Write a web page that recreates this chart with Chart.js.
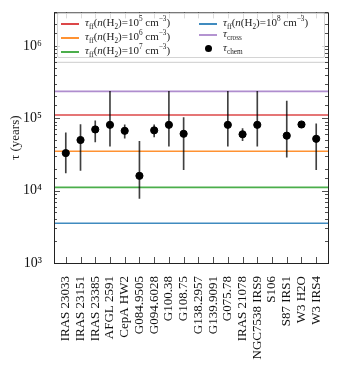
<!DOCTYPE html>
<html lang="en">
<head>
    <meta charset="UTF-8">
    <title>tau chem vs free-fall</title>
    <script src="https://cdn.jsdelivr.net/npm/chart.js"></script>
    <style>
        body {
            margin: 0;
            background: #fff;
        }
        #wrap {
            position: relative;
            width: 338px;
            height: 369px;
        }
        #legend {
            position: absolute;
            left: 57px;
            top: 13px;
            width: 268px;
            height: 45px;
            border: 1px solid #d4d4d4;
            border-radius: 2px;
            background: rgba(255, 255, 255, 0.8);
            box-sizing: border-box;
            font-family: "Liberation Serif", serif;
            font-size: 11px;
            color: #222;
        }
        .item {
            position: absolute;
            white-space: nowrap;
            line-height: 11px;
        }
        .swatch {
            position: absolute;
            width: 18px;
            height: 2px;
        }
        .dot {
            position: absolute;
            width: 7px;
            height: 7px;
            border-radius: 50%;
            background: #000;
        }
        sub, sup {
            font-size: 66%;
            line-height: 0;
        }
    </style>
</head>
<body>
<div id="wrap">
    <canvas id="chart" width="338" height="369"></canvas>
    <div id="legend">
        <!-- column 1 -->
        <div class="swatch" style="left:3px;top:9px;background:#d62728;opacity:.85"></div>
        <div class="item" style="left:27px;top:3px"><i>τ</i><sub>ff</sub>(<i>n</i>(H<sub>2</sub>)=10<sup>5</sup> cm<sup>−3</sup>)</div>
        <div class="swatch" style="left:3px;top:23px;background:#ff7f0e;opacity:.85"></div>
        <div class="item" style="left:27px;top:17px"><i>τ</i><sub>ff</sub>(<i>n</i>(H<sub>2</sub>)=10<sup>6</sup> cm<sup>−3</sup>)</div>
        <div class="swatch" style="left:3px;top:37px;background:#2ca02c;opacity:.85"></div>
        <div class="item" style="left:27px;top:31px"><i>τ</i><sub>ff</sub>(<i>n</i>(H<sub>2</sub>)=10<sup>7</sup> cm<sup>−3</sup>)</div>
        <!-- column 2 -->
        <div class="swatch" style="left:141px;top:9px;background:#1f77b4;opacity:.85"></div>
        <div class="item" style="left:165px;top:3px"><i>τ</i><sub>ff</sub>(<i>n</i>(H<sub>2</sub>)=10<sup>8</sup> cm<sup>−3</sup>)</div>
        <div class="swatch" style="left:141px;top:20px;background:#9467bd;opacity:.7"></div>
        <div class="item" style="left:165px;top:14px"><i>τ</i><sub>cross</sub></div>
        <div class="dot" style="left:147px;top:31px"></div>
        <div class="item" style="left:165px;top:28px"><i>τ</i><sub>chem</sub></div>
    </div>
</div>

<script>
    // sources on the x axis
    const categories = ['IRAS 23033', 'IRAS 23151', 'IRAS 23385', 'AFGL 2591', 'CepA HW2',
        'G084.9505', 'G094.6028', 'G100.38', 'G108.75', 'G138.2957', 'G139.9091', 'G075.78',
        'IRAS 21078', 'NGC7538 IRS9', 'S106', 'S87 IRS1', 'W3 H2O', 'W3 IRS4'];

    // chemical age (years) with lower / upper ends of the error bars
    const chemAge  = [3.3e4, 5.0e4, 7.0e4, 8.1e4, 6.7e4, 1.6e4, 6.8e4, 8.1e4, 6.1e4,
        null, null, 8.1e4, 6.0e4, 8.1e4, null, 5.75e4, 8.2e4, 5.2e4];
    const chemLow  = [1.75e4, 1.9e4, 4.7e4, 4.1e4, 5.3e4, 7.8e3, 5.5e4, 4.1e4, 1.95e4,
        null, null, 4.1e4, 4.9e4, 4.1e4, null, 2.9e4, null, 1.95e4];
    const chemHigh = [6.3e4, 8.2e4, 9.2e4, 2.35e5, 8.1e4, 4.8e4, 8.1e4, 2.35e5, 1.02e5,
        null, null, 2.35e5, 7.2e4, 2.35e5, null, 1.72e5, null, 8.4e4];

    // free-fall times for n(H2) = 1e5, 1e6, 1e7, 1e8 cm^-3
    const freeFall = [1.11e5, 3.5e4, 1.11e4, 3.55e3];
    const freeFallColors = ['rgba(214,39,40,0.85)', 'rgba(255,127,14,0.85)',
        'rgba(44,160,44,0.85)', 'rgba(31,119,180,0.85)'];
    const tauCross = 2.35e5;
    const greyLine = 5.9e5;

    const yMin = 1e3;
    const yMax = 2.9e6;
    const yLabels = {1e3: '10³', 1e4: '10⁴', 1e5: '10⁵', 1e6: '10⁶'};
    const xMin = -0.8;
    const xMax = categories.length - 1 + 0.8;

    const serif = '"Liberation Serif", "DejaVu Serif", serif';

    function hline(value, color, width) {
        return {
            type: 'line',
            data: [{x: xMin, y: value}, {x: xMax, y: value}],
            borderColor: color,
            borderWidth: width,
            pointRadius: 0,
            order: 3
        };
    }

    const datasets = [
        {
            type: 'scatter',
            data: categories.map((c, i) => ({x: i, y: chemAge[i]})).filter(p => p.y !== null),
            backgroundColor: '#000',
            borderColor: '#000',
            pointRadius: 3.6,
            order: 0
        },
        {
            type: 'bar',
            data: categories.map((c, i) => ({x: i, y: [chemLow[i], chemHigh[i]]}))
                .filter(p => p.y[0] !== null),
            backgroundColor: 'rgba(0,0,0,0.75)',
            barThickness: 1,
            order: 1
        },
        hline(tauCross, 'rgba(148,103,189,0.75)', 1.6),
        hline(greyLine, '#d6d6d6', 1.2)
    ];
    freeFall.forEach((v, i) => datasets.push(hline(v, freeFallColors[i], 1.6)));

    // ticks pointing inward on all four sides, plus the frame
    const frameTicks = {
        id: 'frameTicks',
        afterDraw(chart) {
            const {ctx, chartArea: a, scales: {x, y}} = chart;
            ctx.save();
            ctx.strokeStyle = '#222';
            ctx.lineWidth = 0.8;
            ctx.beginPath();
            y.ticks.forEach(t => {
                const py = Math.round(y.getPixelForValue(t.value)) + 0.5;
                const major = Math.abs(Math.log10(t.value) % 1) < 1e-9;
                const len = major ? 6 : 3;
                ctx.moveTo(a.left, py); ctx.lineTo(a.left + len, py);
                ctx.moveTo(a.right, py); ctx.lineTo(a.right - len, py);
            });
            x.ticks.forEach(t => {
                const px = Math.round(x.getPixelForValue(t.value)) + 0.5;
                ctx.moveTo(px, a.bottom); ctx.lineTo(px, a.bottom - 6);
                ctx.moveTo(px, a.top); ctx.lineTo(px, a.top + 6);
            });
            ctx.stroke();
            ctx.lineWidth = 1;
            ctx.strokeRect(a.left + 0.5, a.top + 0.5, a.right - a.left, a.bottom - a.top);
            ctx.restore();
        }
    };

    new Chart(document.getElementById('chart'), {
        type: 'scatter',
        data: {datasets: datasets},
        plugins: [frameTicks],
        options: {
            responsive: false,
            animation: false,
            layout: {padding: {top: 10, right: 10, left: 0, bottom: 0}},
            plugins: {
                legend: {display: false},
                tooltip: {enabled: false}
            },
            scales: {
                x: {
                    type: 'linear',
                    min: xMin,
                    max: xMax,
                    offset: false,
                    grid: {display: false},
                    border: {display: false},
                    afterBuildTicks: s => { s.ticks = categories.map((c, i) => ({value: i})); },
                    afterFit: s => { s.height = 106; },
                    ticks: {
                        autoSkip: false,
                        minRotation: 90,
                        maxRotation: 90,
                        padding: 5,
                        color: '#111',
                        font: {family: serif, size: 13},
                        callback: v => categories[v]
                    }
                },
                y: {
                    type: 'logarithmic',
                    min: yMin,
                    max: yMax,
                    grid: {display: false},
                    border: {display: false},
                    afterFit: s => { s.width = 54; },
                    ticks: {
                        autoSkip: false,
                        padding: 4,
                        color: '#111',
                        font: {family: serif, size: 14},
                        callback: v => yLabels[v] || ''
                    },
                    title: {
                        display: true,
                        text: 'τ (years)',
                        color: '#222',
                        font: {family: serif, size: 13},
                        padding: {top: 8, bottom: 0}
                    }
                }
            }
        }
    });
</script>
</body>
</html>
